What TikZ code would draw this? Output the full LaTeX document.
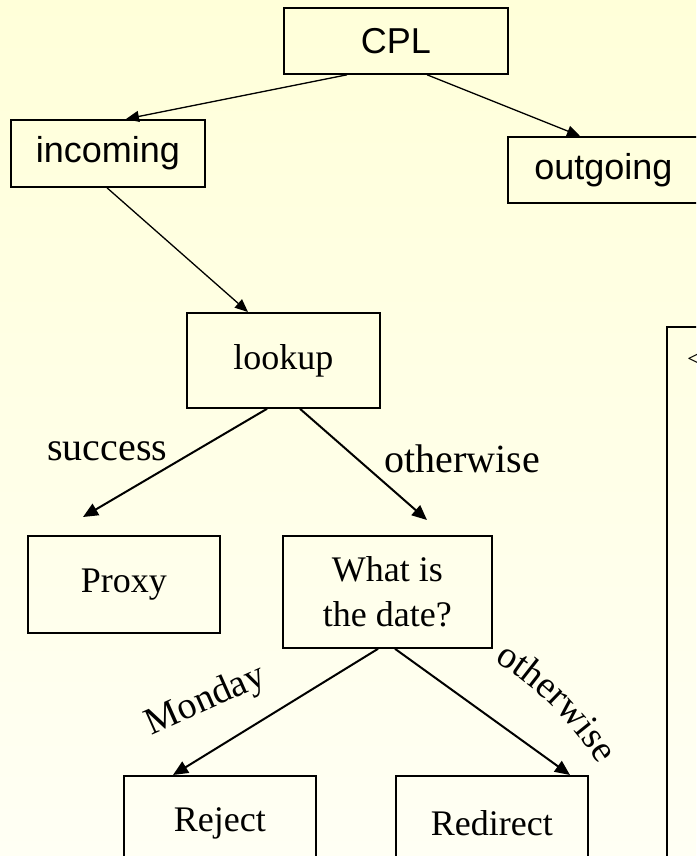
\documentclass[tikz,border=0pt]{standalone}
\usepackage{fontspec}
\setmainfont{Liberation Serif}
\newfontfamily\arialf{Liberation Sans}
\usetikzlibrary{arrows.meta,calc,decorations.text}
\begin{document}
\begin{tikzpicture}[x=1pt,y=-1pt,
  box/.style={draw, line width=1.8pt, anchor=north west, inner sep=0pt, align=center,
    font=\fontsize{36}{45}\selectfont},
  sbox/.style={box, font=\arialf\fontsize{36}{43}\selectfont},
  thin arrow/.style={line width=1.3pt, -{Triangle[length=13pt,width=11pt]}},
  thick arrow/.style={line width=2pt, -{Triangle[length=15pt,width=13pt]}},
  lbl/.style={inner sep=0pt, font=\fontsize{40}{40}\selectfont}]
\useasboundingbox (0,0) rectangle (696,856);
\begin{scope}
\clip (0,0) rectangle (696,856);
\shade[top color={rgb,255:red,255;green,255;blue,217}, bottom color={rgb,255:red,255;green,255;blue,244}] (0,0) rectangle (696,856);

\node[sbox, minimum width=224pt, minimum height=66pt] (cpl) at (283,7) {CPL};
\node[sbox, minimum width=194pt, minimum height=67pt] (inc) at (10,119) {incoming};
\node[sbox, minimum width=191pt, minimum height=66pt] (out) at (507,136) {outgoing};
\node[box, minimum width=193pt, minimum height=95pt] (look) at (186,312) {lookup};
\node[box, minimum width=192pt, minimum height=97pt] (proxy) at (27,535) {Proxy};
\node[box, minimum width=209pt, minimum height=112pt] (date) at (282,535) {What is\\the date?};
\node[box, minimum width=192pt, minimum height=95pt] (rej) at (123,775) {Reject};
\node[box, minimum width=192pt, minimum height=95pt] (red) at (395,775) {Redirect};
\node[box, minimum width=80pt, minimum height=560pt] (side) at (666,326) {};
\node[inner sep=0pt, anchor=west, font=\fontsize{26}{26}\selectfont] (lt) at (687,360) {<};

\draw[thin arrow] ($(cpl.south west)+(64,0)$) -- ($(inc.north west)+(116,0)$);
\draw[thin arrow] ($(cpl.south west)+(144,0)$) -- ($(out.north west)+(73,0)$);
\draw[thin arrow] ($(inc.south west)+(97,0)$) -- ($(look.north west)+(62,0)$);
\draw[thick arrow] ($(look.south west)+(81,0)$) -- ($(proxy.north west)+(56,-18)$);
\draw[thick arrow] ($(look.south west)+(114,0)$) -- ($(date.north west)+(145,-15)$);
\draw[thick arrow] ($(date.south west)+(96,0)$) -- ($(rej.north west)+(50,0)$);
\draw[thick arrow] ($(date.south west)+(113,0)$) -- ($(red.north west)+(175,0)$);

\node[lbl, anchor=base west] (succ) at (47,460) {success};
\node[lbl, anchor=base east] (oth1) at (540,472) {otherwise};
\node[lbl, font=\fontsize{38}{38}\selectfont, rotate=24] (mon) at (206,701) {Monday};
\path[decorate,
  decoration={text along path, text={|\fontsize{38}{38}\selectfont|otherwise}, text align=left}]
  (494,662) .. controls (530,682) and (580,725) .. (610,785);
\end{scope}
\end{tikzpicture}
\end{document}
